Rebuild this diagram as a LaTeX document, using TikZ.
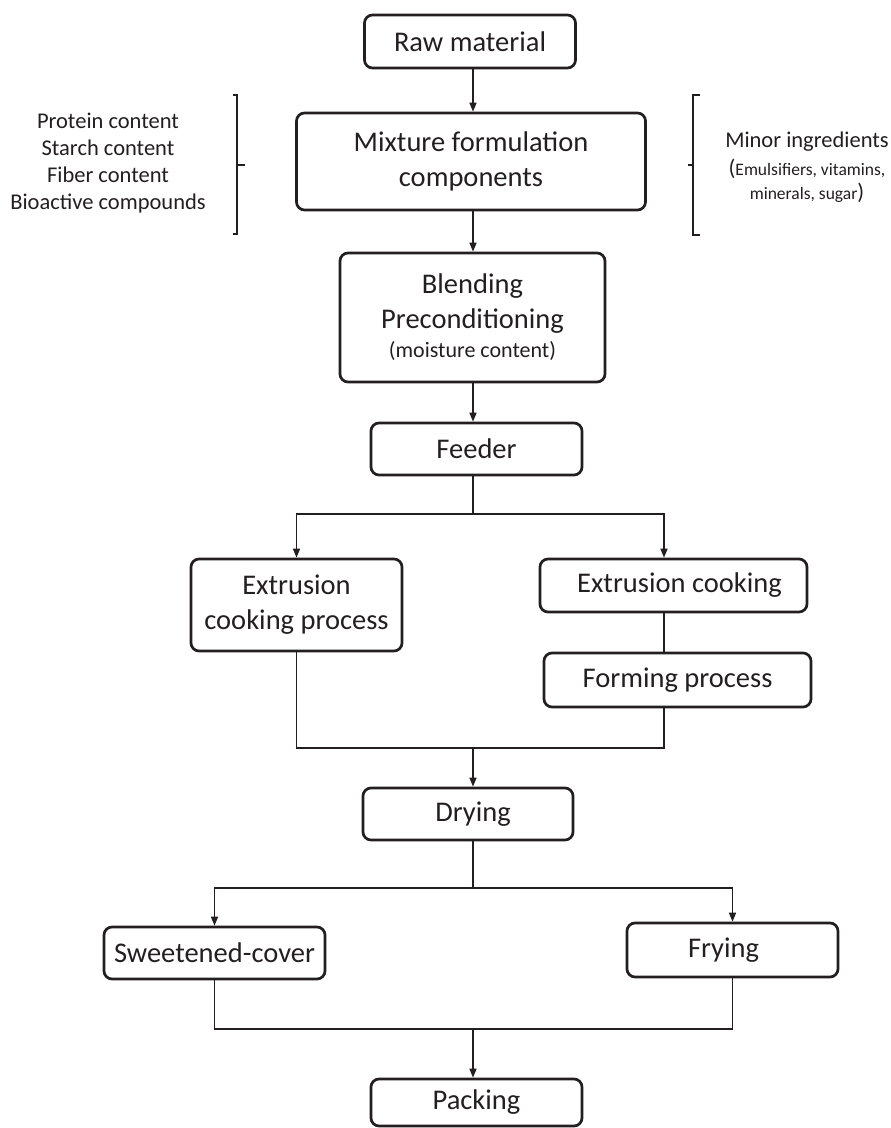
\documentclass[tikz,border=0pt]{standalone}
\usepackage{fontspec}
\setmainfont{Carlito}
\usepackage{tikz}
\usetikzlibrary{positioning,arrows.meta,calc}
\definecolor{ink}{RGB}{35,31,32}

\begin{document}
\begin{tikzpicture}[x=1pt,y=-1pt,
  box/.style={draw=ink,line width=2.7pt,rounded corners=8pt,text=ink,align=center,inner sep=0pt,font=\fontsize{28.5}{35}\selectfont},
  side/.style={text=ink,align=center,inner sep=0pt,font=\fontsize{22.5}{27}\selectfont},
  link/.style={draw=ink,line width=1.6pt},
  arr/.style={link,-{Triangle[length=9pt,width=7pt]}}]

  \useasboundingbox (0,0) rectangle (891,1128);

  \node[box,minimum width=211pt,minimum height=53pt] (raw) at (470,41.5) {Raw material};
  \node[box,minimum width=349pt,minimum height=97pt] (mix) at (471,161.5) {Mixture formulation\\components};
  \node[box,minimum width=265pt,minimum height=129pt] (blend) at (472.5,317.5)
    {Blending\\Preconditioning\\[-6pt]{\fontsize{22}{26}\selectfont(moisture content)}};
  \node[box,minimum width=211pt,minimum height=52pt] (feeder) at (476.5,449) {Feeder};
  \node[box,minimum width=211pt,minimum height=92pt] (ext1) at (296.5,605) {Extrusion\\cooking process};
  \node[box,minimum width=267pt,minimum height=53pt] (ext2) at (673.5,585.5) {\hspace*{12pt}Extrusion cooking};
  \node[box,minimum width=267pt,minimum height=54pt] (form) at (677.5,680) {Forming process};
  \node[box,minimum width=210pt,minimum height=52pt] (dry) at (468,814) {\hspace*{10pt}Drying};
  \node[box,minimum width=221pt,minimum height=52pt] (sweet) at (214.5,953) {Sweetened-cover};
  \node[box,minimum width=211pt,minimum height=54pt] (fry) at (732.5,950) {Frying\hspace*{18pt}};
  \node[box,minimum width=211pt,minimum height=47pt] (pack) at (476.5,1102.5) {Packing};

  \node[side] (props) at (108,163) {Protein content\\Starch content\\Fiber content\\Bioactive compounds};
  \node[side] (minor) at (807,167) {Minor ingredients\\[1pt]
    ({\fontsize{17.5}{20}\selectfont Emulsifiers, vitamins,}\\[-3pt]
    {\fontsize{17.5}{20}\selectfont minerals, sugar})};

  \draw[ink,line width=1.6pt] (233,95) -- (237,95) -- (237,234) -- (233,234);
  \draw[ink,line width=1.6pt] (237,165) -- (245,165);
  \draw[ink,line width=1.6pt] (700,95) -- (693,95) -- (693,235) -- (700,235);
  \draw[ink,line width=1.6pt] (693,165) -- (688,165);

  \coordinate (spine) at (473,0);
  \coordinate (rc) at (664,0);
  \coordinate (fork1) at (473,514);
  \coordinate (join1) at (473,748);
  \coordinate (fork2) at (473,888);
  \coordinate (join2) at (473,1029);

  \draw[arr] (raw.south -| spine) -- (mix.north -| spine);
  \draw[arr] (mix.south -| spine) -- (blend.north -| spine);
  \draw[arr] (blend.south -| spine) -- (feeder.north -| spine);
  \draw[link] (feeder.south -| spine) -- (fork1);
  \draw[arr] (fork1) -| (ext1.north);
  \draw[arr] (fork1) -| (ext2.north -| rc);
  \draw[link] (ext2.south -| rc) -- (form.north -| rc);
  \draw[link] (ext1.south) |- (join1);
  \draw[link] (form.south -| rc) |- (join1);
  \draw[arr] (join1) -- (dry.north -| spine);
  \draw[link] (dry.south -| spine) -- (fork2);
  \draw[arr] (fork2) -| (sweet.north);
  \draw[arr] (fork2) -| (fry.north);
  \draw[link] (sweet.south) |- (join2);
  \draw[link] (fry.south) |- (join2);
  \draw[arr] (join2) -- (pack.north -| spine);
\end{tikzpicture}
\end{document}
